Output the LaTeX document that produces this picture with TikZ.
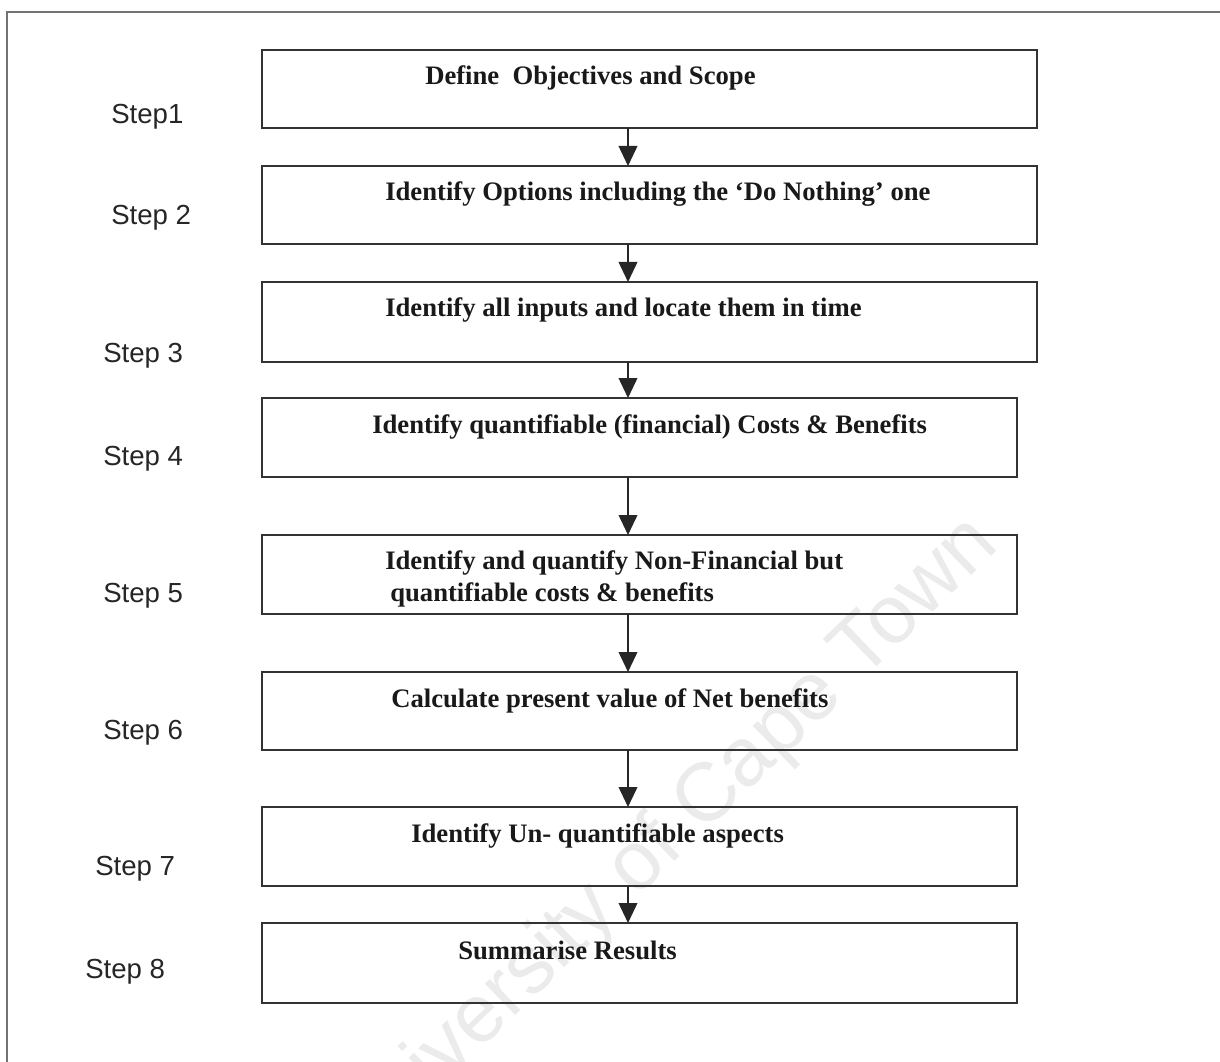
\documentclass[tikz,border=0pt]{standalone}
\usepackage{fontspec}
\setmainfont{Liberation Serif}
\setsansfont{Liberation Sans}
\usetikzlibrary{arrows.meta}
\begin{document}
\begin{tikzpicture}[x=0.75pt,y=-0.75pt,
  box/.style={rectangle, draw=black!80, line width=1.4pt, inner sep=0pt, outer sep=0pt},
  steptext/.style={font=\bfseries\fontsize{20}{24}\selectfont, anchor=base west, inner sep=0pt, text=black!90},
  steplabel/.style={font=\sffamily\fontsize{20.7}{24}\selectfont, anchor=base west, inner sep=0pt, text=black!85},
  flow/.style={draw=black!85, line width=1.3pt, -{Triangle[length=15pt,width=14pt]}},
  frameline/.style={draw=black!55, line width=1.4pt},
  watermark/.style={font=\sffamily\fontsize{62}{70}\selectfont, text=black!8, rotate=44, anchor=base, inner sep=0pt}
]
\useasboundingbox (0,0) rectangle (1220,1062);

% faint watermark behind everything
\begin{scope}
\clip (0,0) rectangle (1220,1062);
\node[watermark] (wm) at (680,857) {University of Cape Town};
\end{scope}

% page frame (top and left edges)
\coordinate (fTL) at (7,12);
\coordinate (fTR) at (1220,12);
\coordinate (fBL) at (7,1062);
\draw[frameline] (fTR) -- (fTL) -- (fBL);

% process boxes
\node[box, minimum width=775*0.75pt, minimum height=78*0.75pt] (b1) at (649.5,89) {};
\node[box, minimum width=775*0.75pt, minimum height=78*0.75pt] (b2) at (649.5,205) {};
\node[box, minimum width=775*0.75pt, minimum height=80*0.75pt] (b3) at (649.5,322) {};
\node[box, minimum width=755*0.75pt, minimum height=79*0.75pt] (b4) at (639.5,437.5) {};
\node[box, minimum width=755*0.75pt, minimum height=79*0.75pt] (b5) at (639.5,574.5) {};
\node[box, minimum width=755*0.75pt, minimum height=78*0.75pt] (b6) at (639.5,711) {};
\node[box, minimum width=755*0.75pt, minimum height=79*0.75pt] (b7) at (639.5,846.5) {};
\node[box, minimum width=755*0.75pt, minimum height=80*0.75pt] (b8) at (639.5,963) {};

% box texts
\node[steptext] (t1) at (425,85) {Define~ Objectives and Scope};
\node[steptext] (t2) at (385,201) {Identify Options including the ‘Do Nothing’ one};
\node[steptext] (t3) at (385,317) {Identify all inputs and locate them in time};
\node[steptext] (t4) at (372,433) {Identify quantifiable (financial) Costs \& Benefits};
\node[steptext] (t5a) at (385,569) {Identify and quantify Non-Financial but};
\node[steptext] (t5b) at (390,601) {quantifiable costs \& benefits};
\node[steptext] (t6) at (391,707) {Calculate present value of Net benefits};
\node[steptext] (t7) at (411,842) {Identify Un- quantifiable aspects};
\node[steptext] (t8) at (458,959) {Summarise Results};

% step labels
\node[steplabel] (s1) at (111,124) {Step1};
\node[steplabel] (s2) at (111,225) {Step 2};
\node[steplabel] (s3) at (103,363) {Step 3};
\node[steplabel] (s4) at (103,465) {Step 4};
\node[steplabel] (s5) at (103,602) {Step 5};
\node[steplabel] (s6) at (103,739) {Step 6};
\node[steplabel] (s7) at (95,875) {Step 7};
\node[steplabel] (s8) at (85,978) {Step 8};

% connectors
\coordinate (ax) at (628,0);
\draw[flow] (b1.south -| ax) -- (b2.north -| ax);
\draw[flow] (b2.south -| ax) -- (b3.north -| ax);
\draw[flow] (b3.south -| ax) -- (b4.north -| ax);
\draw[flow] (b4.south -| ax) -- (b5.north -| ax);
\draw[flow] (b5.south -| ax) -- (b6.north -| ax);
\draw[flow] (b6.south -| ax) -- (b7.north -| ax);
\draw[flow] (b7.south -| ax) -- (b8.north -| ax);
\end{tikzpicture}
\end{document}
